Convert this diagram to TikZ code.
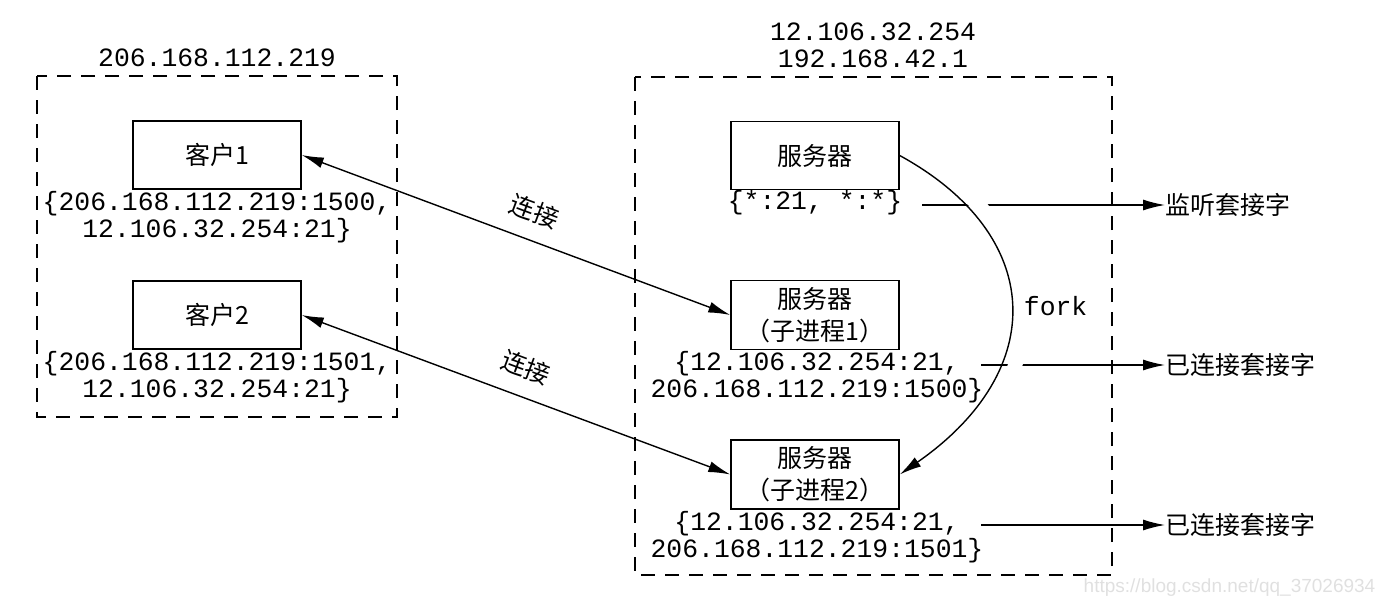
\documentclass[tikz,border=0pt]{standalone}
\usepackage{fontspec}
\setmonofont{Liberation Mono}
\setsansfont{Liberation Sans}
\newfontfamily\cjk{Noto Sans CJK SC}
\usetikzlibrary{arrows.meta,positioning}

\begin{document}
\begin{tikzpicture}[x=0.5pt,y=-0.5pt,line width=0.7pt,
    proc/.style={draw,minimum width=84pt,minimum height=34pt,align=center,
      font=\cjk\fontsize{12.5}{16}\selectfont},
    addr/.style={inner sep=0pt,align=center,font=\ttfamily\fontsize{13.2}{13.5}\selectfont},
    host/.style={draw,dash pattern=on 7pt off 5pt},
    tag/.style={anchor=west,inner sep=0pt,font=\cjk\fontsize{12.5}{15}\selectfont},
    tip/.style={-{Latex[length=11pt,width=5.5pt]}},
    tips/.style={{Latex[length=11pt,width=5.5pt]}-{Latex[length=11pt,width=5.5pt]}}]
    \useasboundingbox (0,0) rectangle (1383,607);
    % hosts
    \draw[host] (37,76) rectangle (397,417);
    \draw[host] (635,77) rectangle (1112,575);
    \node[addr] (hc) at (217,58) {206.168.112.219};
    \node[addr] (hs) at (873,45) {12.106.32.254\\192.168.42.1};
    % processes
    \node[proc] (c1) at (217,155) {客户1};
    \node[proc] (c2) at (217,315) {客户2};
    \node[proc] (s) at (815,155.5) {服务器};
    \node[proc] (k1) at (815,315) {服务器\\（子进程1）};
    \node[proc] (k2) at (815,474.5) {服务器\\（子进程2）};
    \node[tag] (t1) at (1165,205) {监听套接字};
    \node[tag] (t2) at (1165,365) {已连接套接字};
    \node[tag] (t3) at (1165,525) {已连接套接字};
    \coordinate (p1) at (922,205);
    \coordinate (p2) at (981,365);
    \coordinate (p3) at (981,525);
    \draw[tip] (p1) -- (t1);
    \draw[tip] (p2) -- (t2);
    \draw[tip] (p3) -- (t3);
    % fork, with a gap where it crosses the lines
    \draw[white,line width=7pt,shorten <=25pt,shorten >=40pt]
      (s.east) .. controls (1045,235) and (1050,370) .. (k2.east);
    \draw[tip] (s.east) .. controls (1045,235) and (1050,370) .. (k2.east)
      node[pos=0.5,right=3pt,font=\ttfamily\fontsize{13.2}{14}\selectfont] (fk) {fork};
    % connections
    \draw[tips] (c1.east) -- (k1.west)
      node[pos=0.52,above=5pt,sloped,font=\cjk\fontsize{12.5}{15}\selectfont] (l1) {连接};
    \draw[tips] (c2.east) -- (k2.west)
      node[pos=0.5,above=5pt,sloped,font=\cjk\fontsize{12.5}{15}\selectfont] (l2) {连接};
    % socket pairs
    \node[addr] (a1) at (217,217.5) {\{206.168.112.219:1500,\\12.106.32.254:21\}};
    \node[addr] (a2) at (217,377) {\{206.168.112.219:1501,\\12.106.32.254:21\}};
    \node[addr] (as) at (815,203) {\{*:21, *:*\}};
    \node[addr] (a3) at (817,377.5) {\{12.106.32.254:21,\\206.168.112.219:1500\}};
    \node[addr] (a4) at (817,537) {\{12.106.32.254:21,\\206.168.112.219:1501\}};
    \node[anchor=east,inner sep=0pt,text=black!12,font=\sffamily\fontsize{9.5}{11}\selectfont]
      (wm) at (1376,588) {https://blog.csdn.net/qq\_37026934};
\end{tikzpicture}
\end{document}
